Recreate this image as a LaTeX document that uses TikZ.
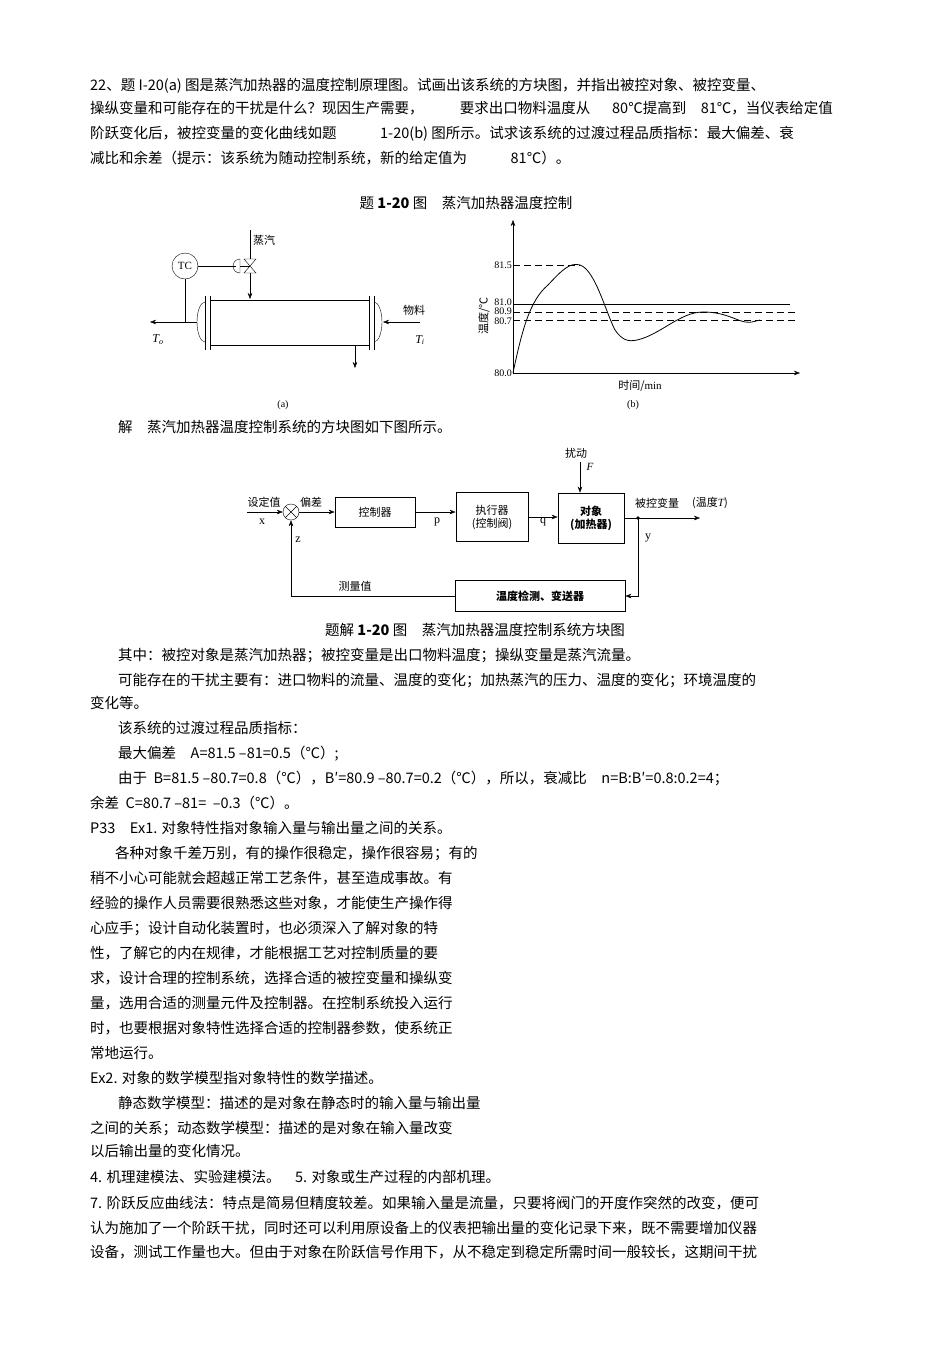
\documentclass[tikz,border=0pt]{standalone}
\usepackage{fontspec}
\setmainfont{Noto Sans CJK SC}
\newfontfamily\serifl{Liberation Serif}
\usetikzlibrary{arrows.meta}
\begin{document}
\begin{tikzpicture}[x=1pt,y=-1pt,
 txt/.style={anchor=base west,inner sep=0,font=\fontsize{14.5}{16}\selectfont},
 sm/.style={inner sep=1pt,font=\fontsize{11}{13}\selectfont},
 blk/.style={draw,thick,align=center,inner sep=0,font=\fontsize{11}{13}\selectfont},
 ar/.style={-{Stealth[length=6pt]},thin},
 dsh/.style={dashed,dash pattern=on 7pt off 4pt}]
\useasboundingbox (0,0) rectangle (950,1345);
% top text
\node[txt] (l1) at (90,90) {22、题 I-20(a)\ 图是蒸汽加热器的温度控制原理图。试画出该系统的方块图，并指出被控对象、被控变量、};
\node[txt] (l2) at (90,113) {操纵变量和可能存在的干扰是什么？现因生产需要，\hspace{2.5em}要求出口物料温度从\hspace{1.5em}80℃提高到\hspace{1em}81℃，当仪表给定值};
\node[txt] (l3) at (90,138) {阶跃变化后，被控变量的变化曲线如题\hspace{3em}1-20(b)\ 图所示。试求该系统的过渡过程品质指标：最大偏差、衰};
\node[txt] (l4) at (90,163) {减比和余差（提示：该系统为随动控制系统，新的给定值为\hspace{3em}81℃）。};
\node[txt,anchor=base] (c1) at (466,208) {题 \textbf{1-20} 图\quad 蒸汽加热器温度控制};
% figure (a)
\node[draw,circle,minimum size=26pt,inner sep=0,font=\serifl\fontsize{11}{12}\selectfont] (tc) at (185,266) {TC};
\coordinate (vl) at (250,266);
\draw (vl) -- ++(-6,-7) -- ++(12,0) -- cycle;
\draw (vl) -- ++(-6,7) -- ++(12,0) -- cycle;
\draw (tc.east) -- (236,266);
\draw (240,259) arc (90:270:7pt) -- cycle;
\draw (240,266) -- (vl);
\draw (250,230) -- (250,259);
\draw[ar] (250,273) -- (250,299);
\node[sm,anchor=west] (steam) at (252,240) {蒸汽};
\draw (210,300) -- (369,300) (210,345) -- (369,345);
\draw (205,296) -- (205,350) (210,296) -- (210,350) (369,296) -- (369,350) (374,296) -- (374,350);
\draw (205,302) arc (90:270:8pt and 20pt);
\draw (374,302) arc (90:-90:8pt and 20pt);
\draw (tc.south) -- (185,322);
\draw[ar] (197,322) -- (150,322);
\draw[ar] (420,322) -- (383,322);
\draw[ar] (355,345) -- (355,368);
\node[sm,anchor=west] (wl) at (402,310) {物料};
\node[sm,font=\serifl\itshape\fontsize{12}{13}\selectfont] (to) at (158,340) {T\textsubscript{o}};
\node[sm,font=\serifl\itshape\fontsize{12}{13}\selectfont] (ti) at (420,340) {T\textsubscript{i}};
\node[sm,font=\serifl\fontsize{10}{11}\selectfont] (la) at (283,405) {(a)};
% figure (b)
\coordinate (o) at (513,373);
\draw[ar] (o) -- (513,220);
\draw[ar] (o) -- (800,373);
\draw (513,304) -- (790,304);
\draw[dsh] (513,265) -- (580,265);
\draw[dsh] (513,312) -- (795,312);
\draw[dsh] (513,320) -- (795,320);
\draw[thick] (513,373) .. controls (522,330) and (530,300) .. (548,285)
 .. controls (562,270) and (570,262) .. (580,265)
 .. controls (595,270) and (605,310) .. (615,330)
 .. controls (622,340) and (628,342) .. (637,340)
 .. controls (660,335) and (680,312) .. (703,312)
 .. controls (725,312) and (735,320) .. (745,322)
 .. controls (752,323) and (755,321) .. (760,320);
\foreach \v/\yy in {81.5/265,81.0/302,80.9/311.5,80.7/321,80.0/373}
 \node[inner sep=0,anchor=east,font=\serifl\fontsize{10}{10}\selectfont] at (512,\yy) {\v};
\node[sm,rotate=90] (ylab) at (484,316) {温度/℃};
\node[sm] (xlab) at (640,386) {时间/{\serifl min}};
\node[sm,font=\serifl\fontsize{10}{11}\selectfont] (lb) at (633,405) {(b)};
\node[txt] (sol) at (118,432) {解\quad 蒸汽加热器温度控制系统的方块图如下图所示。};
% block diagram
\node[draw,circle,minimum size=16pt,inner sep=0] (sum) at (291,512) {};
\draw (sum.north west) -- (sum.south east) (sum.north east) -- (sum.south west);
\node[blk,minimum width=80pt,minimum height=30pt] (ctrl) at (375,512) {控制器};
\node[blk,minimum width=72pt,minimum height=49pt] (act) at (492,517) {执行器\\(控制阀)};
\node[blk,minimum width=66pt,minimum height=50pt,font=\bfseries\fontsize{11}{13}\selectfont] (obj) at (591,518) {对象\\(加热器)};
\node[blk,minimum width=170pt,minimum height=31pt,font=\bfseries\fontsize{11}{13}\selectfont] (sens) at (540,596) {温度检测、变送器};
\coordinate (in) at (247,512);
\draw[ar] (in) -- (sum);
\draw[ar] (sum) -- (ctrl);
\draw[ar] (ctrl) -- (ctrl.east -| act.west);
\draw[ar] (act) -- (act.east -| obj.west);
\coordinate (dist) at (580,462);
\draw[ar] (dist) -- (obj.north -| dist);
\coordinate (jn) at (638,518);
\coordinate (out) at (700,518);
\draw[ar] (obj.east |- jn) -- (out);
\fill (jn) circle (1.8pt);
\draw[ar] (jn) |- (sens.east);
\draw[ar] (sens.west) -| (sum.south);
\node[sm] at (264,502) {设定值};
\node[sm,font=\serifl\fontsize{12}{12}\selectfont] at (262,522) {x};
\node[sm] at (311,502) {偏差};
\node[sm,font=\serifl\fontsize{12}{12}\selectfont] at (437,522) {p};
\node[sm,font=\serifl\fontsize{12}{12}\selectfont] at (543,522) {q};
\node[sm] at (576,453) {扰动};
\node[sm,font=\serifl\itshape\fontsize{11}{12}\selectfont] at (590,467) {F};
\node[sm] at (657,503) {被控变量};
\node[sm] at (710,503) {(温度{\serifl\itshape T})};
\node[sm,font=\serifl\fontsize{12}{12}\selectfont] at (648,538) {y};
\node[sm,font=\serifl\fontsize{12}{12}\selectfont] at (298,540) {z};
\node[sm] at (355,586) {测量值};
\node[txt,anchor=base] (c2) at (475,635) {题解 \textbf{1-20} 图\quad 蒸汽加热器温度控制系统方块图};
% body text
\node[txt] at (118,660) {其中：被控对象是蒸汽加热器；被控变量是出口物料温度；操纵变量是蒸汽流量。};
\node[txt] at (118,685) {可能存在的干扰主要有：进口物料的流量、温度的变化；加热蒸汽的压力、温度的变化；环境温度的};
\node[txt] at (90,708) {变化等。};
\node[txt] at (118,733) {该系统的过渡过程品质指标：};
\node[txt] at (118,758) {最大偏差\quad A=81.5 –81=0.5（℃）;};
\node[txt] at (118,783) {由于\ \ B=81.5 –80.7=0.8（℃），B′=80.9 –80.7=0.2（℃），所以，衰减比\quad n=B:B′=0.8:0.2=4；};
\node[txt] at (90,808) {余差\ \ C=80.7 –81= \ –0.3（℃）。};
\node[txt] at (90,833) {P33\quad Ex1. 对象特性指对象输入量与输出量之间的关系。};
\node[txt] at (115,858) {各种对象千差万别，有的操作很稳定，操作很容易；有的};
\node[txt] at (90,883) {稍不小心可能就会超越正常工艺条件，甚至造成事故。有};
\node[txt] at (90,908) {经验的操作人员需要很熟悉这些对象，才能使生产操作得};
\node[txt] at (90,933) {心应手；设计自动化装置时，也必须深入了解对象的特};
\node[txt] at (90,958) {性，了解它的内在规律，才能根据工艺对控制质量的要};
\node[txt] at (90,983) {求，设计合理的控制系统，选择合适的被控变量和操纵变};
\node[txt] at (90,1008) {量，选用合适的测量元件及控制器。在控制系统投入运行};
\node[txt] at (90,1033) {时，也要根据对象特性选择合适的控制器参数，使系统正};
\node[txt] at (90,1058) {常地运行。};
\node[txt] at (90,1083) {Ex2. 对象的数学模型指对象特性的数学描述。};
\node[txt] at (118,1108) {静态数学模型：描述的是对象在静态时的输入量与输出量};
\node[txt] at (90,1133) {之间的关系；动态数学模型：描述的是对象在输入量改变};
\node[txt] at (90,1156) {以后输出量的变化情况。};
\node[txt] at (90,1182) {4. 机理建模法、实验建模法。\quad 5. 对象或生产过程的内部机理。};
\node[txt] at (90,1208) {7. 阶跃反应曲线法：特点是简易但精度较差。如果输入量是流量，只要将阀门的开度作突然的改变，便可};
\node[txt] at (90,1233) {认为施加了一个阶跃干扰，同时还可以利用原设备上的仪表把输出量的变化记录下来，既不需要增加仪器};
\node[txt] at (90,1257) {设备，测试工作量也大。但由于对象在阶跃信号作用下，从不稳定到稳定所需时间一般较长，这期间干扰};
\end{tikzpicture}
\end{document}
